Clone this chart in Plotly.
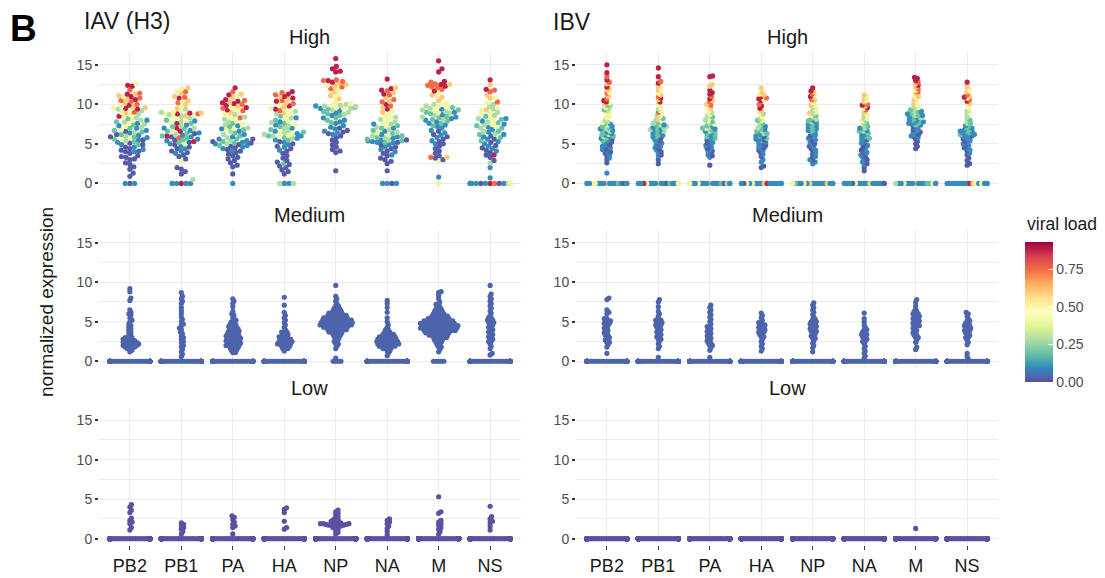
import math
import plotly.graph_objects as go

# ---------------------------------------------------------------- data
GENES = ["PB2", "PB1", "PA", "HA", "NP", "NA", "M", "NS"]

# viral-load value of each colour band
BAND_LOAD = {"P": 0.02, "B": 0.10, "T": 0.19, "G": 0.28,
             "Y": 0.40, "O": 0.60, "R": 0.75, "D": 0.88}

# IAV (H3), High: expression values grouped by colour band (viral load)
IAV_HIGH = {
    "PB2": dict(D=[12.4, 12.3, 11.3, 11.0, 10.6, 9.9, 9.5, 9.4, 8.5],
                R=[11.8, 11.4, 10.8, 10.5, 10.4, 10.0, 9.0],
                O=[11.3, 11.1, 10.7, 10.2, 9.7, 9.6, 8.9],
                Y=[12.6, 11.0, 9.8, 9.6, 9.3, 9.0, 8.7, 8.4, 8.0, 7.6, 7.2, 6.8, 5.8, 5.6],
                G=[9.4, 9.2, 8.8, 8.3, 8.0, 7.8, 7.5, 7.1, 6.5, 6.0, 5.4],
                T=[8.2, 7.8, 7.4, 7.0, 6.7, 6.5, 6.2, 5.9, 5.6, 5.3, 4.9],
                B=[8.0, 7.6, 7.3, 7.0, 6.7, 6.4, 6.1, 5.8, 5.5, 5.2, 4.9, 4.6, 4.3, 4.0],
                P=[6.6, 6.2, 5.9, 5.5, 5.1, 4.9, 4.6, 4.4, 4.2, 4.1, 4.0, 3.8, 3.5, 3.4,
                   3.3, 3.1, 3.0, 2.6, 2.4, 2.1, 1.8, 1.3, 0.9]),
    "PB1": dict(D=[10.8, 8.9, 8.8, 7.6, 7.0, 6.6, 6.0, 5.3],
                R=[11.6, 10.9, 10.2, 8.8, 5.8],
                O=[12.1, 11.4, 11.0, 10.5, 10.0, 9.5, 8.9, 8.6],
                Y=[12.0, 11.6, 10.4, 9.8, 9.2, 9.0, 8.8, 8.6, 8.4, 8.2, 8.0, 7.7, 6.6, 5.0, 2.9],
                G=[9.4, 9.0, 8.7, 8.5, 8.3, 7.9, 7.3, 7.0, 6.2, 0.5],
                T=[8.0, 7.6, 7.2, 6.9, 6.6, 6.3, 6.0, 5.7, 5.5, 5.2],
                B=[7.9, 7.4, 7.0, 6.7, 6.4, 6.1, 5.9, 5.6, 5.4, 5.0, 4.7, 4.4, 4.1, 3.8],
                P=[6.3, 5.9, 5.5, 5.2, 4.9, 4.6, 4.4, 4.1, 3.9, 3.6, 3.4, 3.1, 2.0, 1.8, 1.5, 1.2]),
    "PA": dict(D=[12.1, 11.2, 10.6, 10.4, 10.2, 10.1, 9.9, 9.6, 9.3],
               R=[11.6, 10.5, 10.0, 9.5, 9.2, 8.3],
               O=[11.3, 10.9, 10.3, 9.8, 9.0],
               Y=[11.0, 9.7, 9.4, 9.1, 8.8, 8.5, 8.2, 7.9, 7.5, 7.0, 6.8],
               G=[8.7, 8.4, 8.1, 7.8, 7.4, 7.0, 6.6, 6.2, 5.8, 5.4, 5.0],
               T=[7.6, 7.2, 6.8, 6.4, 6.0, 5.6, 5.3, 5.1, 4.8],
               B=[7.3, 6.9, 6.6, 6.2, 5.9, 5.6, 5.4, 5.2, 5.0, 4.8, 4.6, 4.4, 4.1],
               P=[5.6, 5.3, 5.1, 4.9, 4.7, 4.5, 4.3, 4.1, 3.9, 3.7, 3.5, 3.3, 3.1, 2.9,
                  2.6, 2.3, 2.1, 1.2]),
    "HA": dict(D=[11.6, 11.3, 11.0, 10.8, 10.4, 9.8, 9.4],
               R=[11.5, 11.2, 10.5, 10.1, 9.2],
               O=[11.0, 10.7, 10.2, 9.7, 8.9],
               Y=[10.0, 9.5, 9.3, 9.0, 8.6, 8.2, 7.9, 7.5, 6.5, 6.3, 6.1, 5.9],
               G=[9.1, 8.8, 8.3, 7.7, 7.3, 7.0, 6.7, 6.4, 6.2, 6.0, 5.7],
               T=[8.5, 8.0, 7.6, 7.2, 6.8, 6.5, 6.0, 5.8, 5.5, 2.5],
               B=[8.3, 7.8, 7.4, 7.0, 6.6, 6.3, 6.0, 5.7, 5.5, 5.2, 4.9, 4.6, 4.2],
               P=[5.3, 5.0, 4.7, 4.4, 4.1, 3.8, 3.5, 3.2, 2.9, 2.7, 2.4, 2.2, 2.0, 1.7, 1.5, 1.2]),
    "NP": dict(D=[15.8, 14.8, 14.5, 14.2, 14.1, 13.0, 12.8],
               R=[13.1, 13.0, 12.9, 12.2, 12.0],
               O=[12.6, 12.5, 12.3, 11.6, 11.1, 10.7],
               Y=[12.4, 11.9, 11.3, 10.9, 10.3, 10.1, 9.9, 9.7, 9.6, 9.5],
               G=[10.0, 9.9, 9.8, 9.7, 9.5, 9.3, 9.0, 8.7],
               T=[9.6, 9.4, 9.1, 8.8, 8.6, 8.3, 8.0, 7.7],
               B=[9.8, 9.5, 9.2, 8.9, 8.6, 8.3, 8.0, 7.8, 7.6, 7.3, 7.1, 6.9, 6.6, 6.4, 6.2],
               P=[7.0, 6.7, 6.5, 6.3, 6.0, 5.8, 5.5, 5.2, 4.9, 4.6, 4.3, 4.1, 3.9, 1.6]),
    "NA": dict(D=[13.2, 12.0, 11.8, 11.3, 10.0, 9.4],
               R=[11.7, 11.2, 10.6, 10.3, 9.8],
               O=[12.1, 11.5, 10.8, 10.4, 9.6, 9.0],
               Y=[9.2, 8.8, 8.5, 8.3, 8.0, 7.6, 7.3, 6.4, 6.2],
               G=[8.4, 8.1, 7.8, 7.5, 7.1, 6.8, 6.5, 6.0, 5.8, 5.5],
               T=[7.3, 7.0, 6.7, 6.3, 6.0, 5.8, 5.6, 5.4, 5.2],
               B=[7.5, 7.0, 6.6, 6.2, 5.9, 5.7, 5.5, 5.4, 5.3, 5.2, 5.1, 4.9, 4.6, 4.3, 4.0, 3.6],
               P=[5.5, 5.2, 4.9, 4.6, 4.4, 4.1, 3.8, 3.5, 3.2, 3.0, 2.8, 2.5, 1.6]),
    "M": dict(D=[15.5, 14.5, 14.1, 12.9, 12.5, 12.3, 11.7],
              R=[12.8, 12.6, 12.4, 12.2, 12.1, 11.9, 3.3],
              O=[12.5, 11.2, 10.9, 10.5, 3.3],
              Y=[11.5, 11.0, 10.2, 10.0, 9.8, 9.6, 9.3, 9.0, 2.8],
              G=[10.0, 9.8, 9.5, 9.3, 9.1, 8.9, 8.6, 8.4, 8.1],
              T=[9.6, 9.3, 9.0, 8.8, 8.5, 8.3, 8.1, 7.9, 7.6, 7.3],
              B=[9.4, 9.0, 8.7, 8.4, 8.2, 8.0, 7.8, 7.6, 7.4, 7.2, 7.0, 6.7, 6.4, 6.1,
                 5.8, 5.4, 5.0, 0.8],
              P=[6.6, 6.2, 5.9, 5.6, 5.3, 5.0, 4.7, 4.4, 4.1, 3.8, 3.5, 3.2, 3.0]),
    "NS": dict(D=[13.1, 11.9, 3.6],
               R=[11.8, 11.6, 10.3],
               O=[12.5, 11.2, 10.8, 9.3],
               Y=[10.8, 10.2, 9.6, 9.3, 9.0, 8.7, 8.4, 8.0, 7.5, 7.2],
               G=[10.0, 9.7, 9.4, 9.0, 8.6, 8.2, 7.8, 7.4, 7.0, 6.6, 6.2, 2.6],
               T=[8.5, 8.1, 7.7, 7.3, 7.0, 6.6, 6.2, 5.8, 5.4],
               B=[8.2, 7.9, 7.5, 7.1, 6.8, 6.5, 6.2, 5.9, 5.6, 5.3, 5.0, 4.7, 4.4, 4.1, 2.0, 0.7],
               P=[6.0, 5.6, 5.2, 4.8, 4.5, 4.2, 3.9, 3.6, 3.3, 2.9]),
}
# colour bands of the cells with zero expression (centre first)
IAV_HIGH_ZEROS = {"PB2": "PBB", "PB1": "DBBBB", "PA": "B", "HA": "BBGG", "NP": "",
                  "NA": "BPBB", "M": "Y", "NS": "DRBPPBBGBYPOBY"}

# IBV, High
IBV_HIGH = {
    "PB2": dict(D=[15.0, 14.0, 13.1, 12.2, 10.5, 10.3],
                R=[13.5, 12.8, 11.4, 10.7],
                O=[12.6, 12.0, 11.8, 11.0, 10.0, 9.2],
                Y=[11.5, 10.2, 9.6, 9.0, 8.8, 8.5, 8.3, 7.7, 7.4],
                G=[9.8, 9.5, 8.0, 7.8, 7.2, 6.9, 6.6, 6.2, 5.9],
                T=[9.9, 9.3, 7.6, 7.2, 7.0, 6.7, 6.4, 6.2, 6.0, 5.8, 5.6, 5.4],
                B=[7.5, 7.2, 6.9, 6.7, 6.5, 6.3, 6.1, 5.9, 5.7, 5.5, 5.3, 5.1, 4.9, 4.7,
                   4.5, 4.3, 4.0, 3.6, 3.2, 1.3],
                P=[5.6, 5.2, 4.9, 4.6, 4.4, 4.2, 4.0, 3.8, 3.5, 3.0, 2.6]),
    "PB1": dict(D=[14.6, 13.5, 12.7, 10.8, 10.3],
                R=[12.9, 11.0, 9.0],
                O=[12.3, 11.8, 11.2, 10.6, 8.2],
                Y=[12.0, 11.4, 10.0, 9.6, 9.2, 8.8, 8.5, 8.0],
                G=[9.4, 8.6, 8.0, 7.6, 7.4, 7.2, 7.0, 6.8, 6.6],
                T=[8.2, 7.8, 7.5, 7.3, 7.1, 6.9, 6.7, 6.5, 6.3, 6.1, 5.9],
                B=[7.4, 7.1, 6.9, 6.7, 6.5, 6.3, 6.1, 5.9, 5.7, 5.5, 5.3, 5.1, 4.9, 4.7,
                   4.5, 4.2, 3.9, 3.5],
                P=[5.8, 5.4, 5.0, 4.6, 4.3, 4.0, 3.6, 3.0, 2.5]),
    "PA": dict(D=[13.6, 13.5, 11.8, 11.5, 11.3, 10.7],
               R=[11.0, 10.3, 9.9],
               O=[12.5, 12.3, 10.5, 10.0, 9.5],
               Y=[9.7, 9.2, 8.7, 8.3, 7.9, 7.5, 7.0],
               G=[9.0, 8.5, 8.0, 7.6, 7.2, 6.9, 6.6],
               T=[8.4, 7.8, 7.3, 7.0, 6.8, 6.5, 6.3, 6.1, 5.9, 5.7],
               B=[7.2, 6.9, 6.6, 6.4, 6.2, 6.0, 5.8, 5.6, 5.4, 5.2, 5.0, 4.8, 4.6, 4.3,
                  4.0, 3.6, 3.3],
               P=[5.5, 5.1, 4.7, 4.4, 4.1, 3.8, 3.5, 2.3]),
    "HA": dict(D=[11.0, 10.7, 10.5, 9.8, 9.5],
               R=[10.8, 10.0],
               O=[12.1, 11.5, 11.2, 9.2],
               Y=[11.3, 10.6, 9.0, 8.7, 8.4, 8.0],
               G=[8.8, 8.2, 7.8, 7.4, 7.0, 6.6, 6.3],
               T=[8.0, 7.6, 7.2, 6.9, 6.6, 6.3, 6.0, 5.7, 5.4],
               B=[7.2, 6.8, 6.5, 6.2, 6.0, 5.8, 5.6, 5.4, 5.2, 5.0, 4.8, 4.6, 4.4, 4.1,
                  3.7, 3.0, 2.7],
               P=[5.9, 5.5, 5.1, 4.8, 4.5, 4.2, 3.9, 3.4, 2.2, 2.0]),
    "NP": dict(D=[12.1, 11.7, 11.0],
               R=[11.3, 10.6],
               O=[11.6, 10.9, 10.5, 9.9, 8.9],
               Y=[11.2, 10.2, 9.8, 9.4, 9.0, 8.6],
               G=[9.6, 9.2, 8.8, 8.4, 8.1, 7.8],
               T=[8.6, 8.2, 7.9, 7.6, 7.4, 7.2, 7.0, 6.8, 6.6],
               B=[8.0, 7.7, 7.5, 7.3, 7.1, 6.9, 6.7, 6.5, 6.3, 6.1, 5.9, 5.7, 5.5, 5.2,
                  4.9, 4.6, 4.2, 3.8, 3.4, 3.0, 2.7, 2.5],
               P=[6.0, 5.6, 5.3, 5.0, 4.7, 4.4, 4.1, 3.7, 3.3, 2.9]),
    "NA": dict(D=[9.9, 9.6],
               R=[10.0, 9.3],
               O=[11.2, 10.8, 10.3, 9.8, 9.0],
               Y=[11.0, 10.5, 9.5, 8.7, 8.3, 7.9],
               G=[8.6, 8.2, 7.8, 7.4, 7.0, 6.6],
               T=[7.6, 7.2, 6.9, 6.6, 6.3, 6.0, 5.7],
               B=[7.0, 6.7, 6.4, 6.2, 6.0, 5.8, 5.6, 5.4, 5.1, 4.8, 4.5, 4.2, 3.9, 3.6,
                  3.3, 3.0, 2.7, 2.4],
               P=[5.5, 5.0, 4.6, 4.2, 3.8, 3.4, 3.0, 2.5, 2.0, 1.6]),
    "M": dict(D=[13.4, 13.3, 13.0, 12.4],
              R=[12.8, 12.0, 11.6],
              O=[12.6, 12.2, 11.4, 11.0, 10.6, 10.2],
              Y=[11.8, 10.9, 10.4, 10.0, 9.6],
              G=[9.8, 9.5, 9.2, 9.0, 8.8, 8.6, 8.3],
              T=[9.3, 9.0, 8.8, 8.6, 8.4, 8.2, 8.0, 7.8, 7.6, 7.4],
              B=[9.1, 8.8, 8.6, 8.4, 8.2, 8.0, 7.9, 7.8, 7.7, 7.6, 7.5, 7.4, 7.2, 7.0,
                 6.8, 6.6, 6.4, 6.2, 6.0, 5.8],
              P=[7.2, 6.8, 6.5, 6.2, 5.9, 5.6, 5.3, 5.0, 4.7, 4.4]),
    "NS": dict(D=[12.8, 10.9, 10.4],
               R=[11.2, 10.6],
               O=[12.2, 11.6, 11.0, 10.1],
               Y=[11.8, 10.8, 10.0, 9.5, 9.0],
               G=[9.2, 8.8, 8.4, 8.0, 7.6],
               T=[8.0, 7.6, 7.3, 7.0, 6.8, 6.6, 6.4, 6.2],
               B=[7.3, 7.0, 6.8, 6.6, 6.5, 6.4, 6.3, 6.2, 6.1, 6.0, 5.9, 5.8, 5.6, 5.4,
                  5.2, 5.0, 4.8, 4.5, 4.2, 3.8],
               P=[6.0, 5.6, 5.3, 4.9, 4.5, 4.1, 3.6, 3.2, 2.9, 2.5, 2.3]),
}
IBV_HIGH_ZEROS = {"PB2": "OBBBBBBTYBYPBGBB", "PB1": "OBBBBPBTYBDBBGBY",
                  "PA": "OBBBBBBTYPBGBBYB", "HA": "BOBDBBYBBBYBPBBB",
                  "NP": "BBOBBBYBBOBBTBYB", "NA": "BBBOBBYBPBBBBBBP",
                  "M": "OBBBBBBTYTBYBBGB", "NS": "BDBOBYBBBYBBBBBB"}

# Medium / Low: non-zero values; (y, n) = n cells at about y
IAV_MED = {
    "PB2": [9.2, 8.8, 8.0, 7.7, 6.5, 6.2, 6.0, 5.8, 5.5, 5.2, 5.0, 4.7, 4.5, 4.3, 4.1, 3.9,
            3.7, 3.5, 3.3, 3.1, (3.0, 2), (2.8, 3), (2.6, 3), (2.4, 4), (2.2, 4), (2.0, 4),
            (1.8, 3), (1.6, 2), 1.4, 1.2],
    "PB1": [8.7, 8.2, 7.9, 7.6, 7.3, 6.8, 6.4, 6.0, 5.6, 5.3, 5.0, 4.7, 4.5, 4.2, 4.0, 3.7,
            3.5, 3.2, 3.0, 2.8, 2.5, 2.3, 2.0, 1.8, 1.5, 1.2, 0.9, 0.6],
    "PA": [7.9, 7.6, 7.3, 6.9, 6.3, 6.0, 5.8, 5.5, 5.2, (5.0, 2), (4.7, 3), (4.4, 4), (4.1, 4),
           (3.8, 5), (3.5, 5), (3.2, 6), (2.9, 6), (2.6, 6), (2.3, 6), (2.0, 6), (1.7, 4),
           (1.4, 3), (1.1, 2)],
    "HA": [8.1, 7.1, 6.2, 5.8, 5.5, 5.2, 4.9, 4.6, 4.3, 4.0, (3.7, 3), (3.4, 3), (3.1, 4),
           (2.8, 5), (2.5, 6), (2.2, 6), (1.9, 4), (1.6, 3), 1.3],
    "NP": [9.6, 8.2, 7.9, 7.6, 7.3, (7.0, 2), (6.7, 3), (6.4, 4), (6.1, 6), (5.8, 8), (5.5, 10),
           (5.2, 12), (4.9, 13), (4.6, 13), (4.3, 10), (4.0, 8), (3.7, 6), (3.4, 4), (3.1, 3),
           (2.8, 2), (2.5, 2), (2.2, 2), 1.9, 1.6, 0.4],
    "NA": [7.7, 7.3, 6.8, 6.2, 5.5, 5.0, 4.6, 4.3, (4.0, 2), (3.7, 3), (3.4, 5), (3.1, 7),
           (2.8, 8), (2.5, 9), (2.2, 9), (1.9, 7), (1.6, 4), (1.3, 2), 1.0, 0.7],
    "M": [8.8, 8.7, 8.3, 7.9, 7.5, (7.2, 2), (6.9, 2), (6.6, 3), (6.3, 4), (6.0, 5), (5.7, 7),
          (5.4, 9), (5.1, 12), (4.8, 14), (4.5, 15), (4.2, 15), (3.9, 13), (3.6, 10), (3.3, 8),
          (3.0, 6), (2.7, 4), (2.4, 3), (2.1, 2), (1.8, 2), 1.5, 1.2],
    "NS": [9.6, 8.5, 8.2, 7.9, 7.6, 7.3, 7.0, 6.7, 6.4, 6.1, 5.8, (5.5, 2), (5.2, 3), (4.9, 3),
           (4.6, 2), (4.3, 2), (4.0, 2), (3.7, 2), (3.4, 2), (3.1, 2), (2.8, 2), (2.5, 2),
           2.2, 1.9, 1.6, 1.0, 0.8],
}
IAV_MED_ZEROS = {"PB2": 50, "PB1": 50, "PA": 50, "HA": 50, "NP": 4, "NA": 50, "M": 5, "NS": 50}

IBV_MED = {
    "PB2": [8.0, 7.8, 6.5, 6.2, 6.0, (5.4, 2), (5.1, 3), (4.8, 3), (4.5, 2), (4.2, 2), (3.9, 2),
            (3.6, 2), (3.3, 2), (3.0, 2), (2.7, 2), (2.4, 2), 2.1, 1.8, 1.0],
    "PB1": [7.8, 7.5, 6.9, 6.3, 6.0, 5.7, (5.2, 3), (4.9, 3), (4.6, 3), (4.3, 2), (4.0, 2),
            (3.7, 2), (3.4, 2), (3.1, 2), (2.8, 2), 2.5, 2.2, 1.9, 1.6, 0.5],
    "PA": [7.1, 6.8, 6.5, 6.2, 5.9, 5.6, 5.3, 5.0, 4.7, (4.4, 2), (4.1, 2), (3.8, 2), (3.5, 2),
           (3.2, 2), (2.9, 2), (2.6, 2), (2.3, 2), (2.0, 2), 1.7, 1.4, 0.5],
    "HA": [6.1, 5.8, 5.5, 5.2, (4.9, 2), (4.6, 3), (4.3, 3), (4.0, 3), (3.7, 3), (3.4, 2),
           (3.1, 2), 2.8, 2.5, 2.2, 1.9, 1.6, 1.3],
    "NP": [7.4, 7.1, 6.8, 6.5, 6.2, 5.9, 5.6, (5.3, 2), (5.0, 3), (4.7, 3), (4.4, 3), (4.1, 3),
           (3.8, 3), (3.5, 2), (3.2, 2), (2.9, 2), 2.6, 2.3, 2.0, 1.7, 1.2],
    "NA": [6.1, 5.4, 5.0, 4.6, 4.3, (4.0, 2), (3.7, 2), (3.4, 3), (3.1, 2), (2.8, 2), (2.5, 2),
           2.2, 1.9, 1.6, 1.3, 1.0, 0.7, 0.4],
    "M": [7.8, 7.5, 7.0, 6.6, (6.3, 2), (6.0, 3), (5.7, 3), (5.4, 3), (5.1, 3), (4.8, 3),
          (4.5, 3), (4.2, 2), (3.9, 2), (3.6, 2), (3.3, 2), (3.0, 2), 2.7, 2.4, 1.8, 1.5],
    "NS": [6.2, 6.0, 5.7, 5.4, (5.1, 2), (4.8, 2), (4.5, 3), (4.2, 3), (3.9, 3), (3.6, 2),
           (3.3, 2), (3.0, 2), 2.7, 2.4, 2.1, 1.0, 0.6, 0.3],
}
IBV_MED_ZEROS = {g: 50 for g in GENES}

IAV_LOW = {
    "PB2": [4.3, 4.0, 3.6, 3.3, 2.6, 2.3, 2.1, 1.9, 1.4, 1.1],
    "PB1": [2.0, 1.8, 1.6, 1.4, 1.2, 0.9, 0.6],
    "PA": [2.9, 2.7, 2.4, 2.1, 1.8, 1.6, 1.4, 0.6],
    "HA": [3.9, 3.7, 3.3, 2.2, 1.4, 1.2],
    "NP": [3.6, 3.4, 3.2, 3.0, 2.8, 2.6, (2.4, 2), (2.2, 2), (2.0, 3), (1.9, 3), (1.8, 3),
           (1.7, 3), (1.6, 2), (1.4, 2), 1.2, 1.0, 0.8, 0.6],
    "NA": [2.5, 2.3, 2.1, 1.9, 1.6, 1.3, 0.9, 0.5],
    "M": [5.3, 3.4, 3.2, 2.3, 2.1, 1.9, 1.7, 1.4, 1.2, 0.9, 0.6],
    "NS": [4.1, 2.8, 2.5, 2.2, 2.0, 1.6, 1.1],
}
IAV_LOW_ZEROS = {g: 50 for g in GENES}
IBV_LOW = {"PB2": [], "PB1": [], "PA": [], "HA": [], "NP": [], "NA": [], "M": [1.3], "NS": []}
IBV_LOW_ZEROS = {g: 50 for g in GENES}

MED_LOAD = 0.035
LOW_LOAD = 0.0

Y_TICKS = [0, 5, 10, 15]
CBAR_TICKS = [0.0, 0.25, 0.50, 0.75]
LOAD_MAX = 0.93

# ---------------------------------------------------------------- layout geometry
FIG_W, FIG_H = 1105, 578
PAGE_OFFSET = 8          # default body margin of the html page
X_RANGE = [0.4, 8.6]
Y_RANGE = [-0.79, 16.59]
COLS_PX = [(99, 521), (576, 998)]
ZERO_PX = [184.0, 362.5, 540.5]
KY = 7.933
ROW_TITLE_Y = [37, 216, 389]
ROW_TITLES = ["High", "Medium", "Low"]

SPECTRAL_R = ["#5E4FA2", "#3288BD", "#66C2A5", "#ABDDA4", "#E6F598", "#FFFFBF",
              "#FEE08B", "#FDAE61", "#F46D43", "#D53E4F", "#9E0142"]
COLORSCALE = [[i / 10, c] for i, c in enumerate(SPECTRAL_R)]


def px_x(x):
    return (x - PAGE_OFFSET) / FIG_W


def px_y(y):
    return (FIG_H - (y - PAGE_OFFSET)) / FIG_H


def expand_rows(vals):
    out = []
    for v in vals:
        if isinstance(v, tuple):
            out += [v[0]] * v[1]
        else:
            out.append(v)
    return out


def swarm(ys_px, d, wmax):
    placed, offs = [], []
    for y in ys_px:
        near = [(px, py) for px, py in placed if abs(py - y) < d]
        cands = [0.0]
        for px, py in near:
            dx = math.sqrt(max(d * d - (py - y) ** 2, 0.0))
            cands += [px + dx, px - dx]
        cands.sort(key=lambda c: (abs(c), -c))
        chosen = cands[-1]
        for c in cands:
            if all((c - px) ** 2 + (y - py) ** 2 >= d * d - 1e-6 for px, py in near):
                chosen = c
                break
        placed.append((chosen, y))
        offs.append(max(-wmax, min(wmax, chosen)))
    return offs


def panel_points(kind, data, zeros, const_load):
    res = {}
    for g in GENES:
        pts = []
        if kind == "band":
            for band, vals in data[g].items():
                pts += [(v, BAND_LOAD[band]) for v in vals]
            pts += [(0.0, BAND_LOAD[b]) for b in zeros[g]]
        else:
            pts += [(v, const_load) for v in expand_rows(data[g])]
            pts += [(0.0, const_load)] * zeros[g]
        res[g] = pts
    return res


PANELS = [  # (row, col, points, swarm spacing px)
    (0, 0, panel_points("band", IAV_HIGH, IAV_HIGH_ZEROS, None), 4.6),
    (0, 1, panel_points("band", IBV_HIGH, IBV_HIGH_ZEROS, None), 2.9),
    (1, 0, panel_points("rows", IAV_MED, IAV_MED_ZEROS, MED_LOAD), 2.6),
    (1, 1, panel_points("rows", IBV_MED, IBV_MED_ZEROS, MED_LOAD), 2.6),
    (2, 0, panel_points("rows", IAV_LOW, IAV_LOW_ZEROS, LOW_LOAD), 2.8),
    (2, 1, panel_points("rows", IBV_LOW, IBV_LOW_ZEROS, LOW_LOAD), 2.6),
]

fig = go.Figure()
layout = dict(width=FIG_W, height=FIG_H, margin=dict(l=0, r=0, t=0, b=0),
              paper_bgcolor="white", plot_bgcolor="white", showlegend=False,
              font=dict(family="Liberation Sans, Arial, sans-serif", color="#1a1a1a"),
              coloraxis=dict(colorscale=COLORSCALE, cmin=0, cmax=LOAD_MAX,
                             colorbar=dict(title=dict(text=""), thickness=28,
                                           lenmode="pixels", len=140,
                                           x=px_x(1025), xanchor="left", xpad=0,
                                           y=px_y(313), yanchor="middle", ypad=0,
                                           outlinewidth=0, tickvals=CBAR_TICKS,
                                           ticktext=["%.2f" % t for t in CBAR_TICKS],
                                           ticks="inside", ticklen=5, tickcolor="white",
                                           tickwidth=1.2,
                                           tickfont=dict(size=14, color="#4D4D4D"))))
annotations = []

for k, (r, c, pts, d) in enumerate(PANELS, start=1):
    x0, x1 = COLS_PX[c]
    top = ZERO_PX[r] - Y_RANGE[1] * KY
    bot = ZERO_PX[r] - Y_RANGE[0] * KY
    kx = (x1 - x0) / (X_RANGE[1] - X_RANGE[0])
    xs, ys, cs = [], [], []
    for gi, g in enumerate(GENES, start=1):
        p = sorted(pts[g], key=lambda t: t[0])
        offs = swarm([v * KY for v, _ in p], d, 20.0)
        for (v, ld), o in zip(p, offs):
            xs.append(gi + o / kx)
            ys.append(v)
            cs.append(ld)
    sfx = "" if k == 1 else str(k)
    fig.add_trace(go.Scatter(x=xs, y=ys, mode="markers", xaxis="x" + sfx, yaxis="y" + sfx,
                             marker=dict(size=5.2, color=cs, coloraxis="coloraxis",
                                         line=dict(width=0)),
                             hoverinfo="skip"))
    bottom_row = (r == 2)
    layout["xaxis" + sfx] = dict(domain=[px_x(x0), px_x(x1)], range=X_RANGE,
                                 anchor="y" + sfx, tickvals=list(range(1, 9)), ticktext=GENES,
                                 showticklabels=bottom_row,
                                 ticks="outside" if bottom_row else "", ticklen=4,
                                 tickwidth=1.3, tickcolor="#333333",
                                 tickfont=dict(size=18, color="#1a1a1a"),
                                 showgrid=True, gridcolor="#EBEBEB", gridwidth=1.3,
                                 zeroline=False, showline=False, fixedrange=True)
    layout["yaxis" + sfx] = dict(domain=[px_y(bot), px_y(top)],
                                 range=Y_RANGE, anchor="x" + sfx, tickvals=Y_TICKS,
                                 ticks="outside", ticklen=3, tickwidth=1.5,
                                 tickcolor="#333333", tickfont=dict(size=14, color="#4D4D4D"),
                                 showgrid=True, gridcolor="#EBEBEB", gridwidth=1.3,
                                 minor=dict(tickvals=[2.5, 7.5, 12.5], showgrid=True,
                                            gridcolor="#EBEBEB", gridwidth=0.8, ticks=""),
                                 zeroline=False, showline=False, fixedrange=True)
    annotations.append(dict(text=ROW_TITLES[r], x=px_x((x0 + x1) / 2),
                            y=px_y(ROW_TITLE_Y[r]),
                            xanchor="center", yanchor="middle",
                            font=dict(size=20, color="#1a1a1a")))

fig.data[0].update(marker_showscale=True)

annotations += [
    dict(text="<b>B</b>", x=px_x(9), y=px_y(29), xanchor="left",
         yanchor="middle", borderpad=0, font=dict(size=37, color="black")),
    dict(text="IAV (H3)", x=px_x(82), y=px_y(21), xanchor="left",
         yanchor="middle", font=dict(size=23, color="#1a1a1a")),
    dict(text="IBV", x=px_x(551), y=px_y(22), xanchor="left",
         yanchor="middle", font=dict(size=23, color="#1a1a1a")),
    dict(text="normalized expression", x=px_x(47), y=px_y(303),
         xanchor="center", yanchor="middle", textangle=-90,
         font=dict(size=19, color="#1a1a1a")),
    dict(text="viral load", x=px_x(1025), y=px_y(225), xanchor="left",
         yanchor="middle", font=dict(size=17.5, color="#1a1a1a")),
]
for a in annotations:
    a.setdefault("xref", "paper")
    a.setdefault("yref", "paper")
    a.setdefault("showarrow", False)
layout["annotations"] = annotations
fig.update_layout(**layout)
fig.write_html("out.html")
